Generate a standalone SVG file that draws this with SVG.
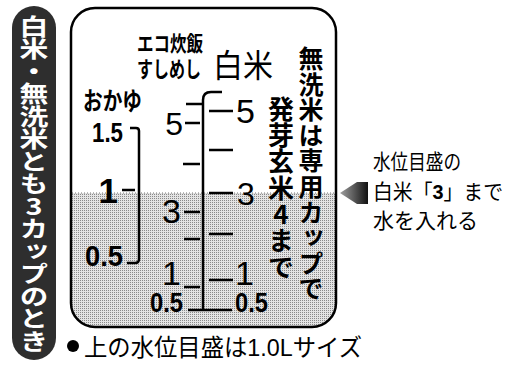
<svg xmlns="http://www.w3.org/2000/svg" width="516" height="365" viewBox="0 0 516 365">
<defs>
<style>
.jp{font-family:"Liberation Sans","Noto Sans CJK JP",sans-serif;}
.jv{font-family:"Noto Sans CJK JP","Noto Sans",sans-serif;}
.num{font-family:"Liberation Sans",Arial,sans-serif;}
.b{font-weight:bold;}
.ln{stroke:#000;stroke-width:2.5;fill:none;}
.vt{writing-mode:vertical-rl;text-orientation:upright;}
</style>
<pattern id="dots" width="2" height="2" patternUnits="userSpaceOnUse">
<rect width="2" height="2" fill="#e4e4e4"/>
<rect width="1" height="1" fill="#8a8a8a"/>
</pattern>
<clipPath id="cup"><rect x="71" y="8" width="265" height="319" rx="24"/></clipPath>
<linearGradient id="ag" x1="0" x2="1" y1="0" y2="0"><stop offset="0" stop-color="#a0a0a0"/><stop offset="1" stop-color="#111"/></linearGradient>
</defs>
<rect width="516" height="365" fill="#fff"/>

<g id="side-label">
<rect x="12" y="6" width="44" height="354" rx="22" fill="#2e2e2e"/>
<text class="jv b vt" x="34" y="15" font-size="22.5" fill="#fff" transform="matrix(1.28,0,0,1,-9.52,0)">白米・無洗米とも3カップのとき</text>
</g>

<g id="cup-body">
<rect x="71" y="8" width="265" height="319" rx="24" fill="#fff"/>
<rect x="71" y="193" width="265" height="134" fill="url(#dots)" clip-path="url(#cup)"/>
<line x1="72" y1="193" x2="335" y2="193" stroke="#777" stroke-width="1" stroke-dasharray="1,2"/>
<rect x="71" y="8" width="265" height="319" rx="24" fill="none" stroke="#000" stroke-width="2.5"/>
</g>

<g id="headers">
<text class="jp b" x="137" y="51" font-size="21" textLength="66" lengthAdjust="spacingAndGlyphs">エコ炊飯</text>
<text class="jp b" x="137" y="77" font-size="22" textLength="64" lengthAdjust="spacingAndGlyphs">すしめし</text>
<text class="jp" x="213" y="77" font-size="32" textLength="60" lengthAdjust="spacingAndGlyphs">白米</text>
</g>

<g id="okayu-scale">
<text class="jp b" x="83" y="110" font-size="25" textLength="59" lengthAdjust="spacingAndGlyphs">おかゆ</text>
<text class="num b" x="92" y="142" font-size="27" textLength="31" lengthAdjust="spacingAndGlyphs">1.5</text>
<text class="num b" x="118" y="203" font-size="35" text-anchor="end">1</text>
<text class="num b" x="85" y="266" font-size="30" textLength="38" lengthAdjust="spacingAndGlyphs">0.5</text>
</g>

<g id="rice-scale-labels">
<text class="num" x="183" y="135" font-size="32" text-anchor="end">5</text>
<text class="num" x="181" y="223" font-size="34" text-anchor="end">3</text>
<text class="num" x="181" y="285" font-size="34" text-anchor="end">1</text>
<text class="num b" x="150" y="312" font-size="27" textLength="33" lengthAdjust="spacingAndGlyphs">0.5</text>
<text class="num" x="236" y="123" font-size="34">5</text>
<text class="num" x="237" y="205" font-size="32">3</text>
<text class="num" x="235" y="285" font-size="34">1</text>
<text class="num b" x="235" y="312" font-size="27" textLength="33" lengthAdjust="spacingAndGlyphs">0.5</text>
</g>

<g id="connectors">
<path class="ln" d="M130,128 H136 Q139,128 139,131 V259 Q139,263 135,263 H127"/>
<path class="ln" d="M122,190 H135"/>
<path class="ln" d="M203,310 V100 Q203,92 211,92 H222"/>
<path class="ln" d="M188,310 H232"/>
<path class="ln" d="M186,104 H202 M185,123 H200 M183,164 H200 M184,212 H200 M184,239 H200 M184,287 H200"/>
<path class="ln" d="M209,111 H233 M209,150 H233 M209,193 H233 M209,234 H233 M209,280 H233"/>
</g>

<g id="columns">
<text class="jv b vt" x="281" y="96" font-size="26" letter-spacing="0.3">発芽玄米4まで</text>
<text class="jv b vt" x="311" y="46" font-size="25" letter-spacing="0.6">無洗米は専用カップで</text>
</g>

<g id="callout">
<polygon points="340,193 357,182 368,182 368,204 357,204" fill="url(#ag)"/>
<text class="jp" x="373" y="169" font-size="21" textLength="88" lengthAdjust="spacingAndGlyphs">水位目盛の</text>
<text class="jp" x="373" y="199" font-size="21" textLength="130" lengthAdjust="spacingAndGlyphs">白米「<tspan class="b">3</tspan>」まで</text>
<text class="jp" x="373" y="228" font-size="21" textLength="105" lengthAdjust="spacingAndGlyphs">水を入れる</text>
</g>

<g id="note">
<circle cx="73" cy="346" r="6" fill="#000"/>
<text class="jp" x="84" y="356" font-size="24" textLength="278" lengthAdjust="spacingAndGlyphs">上の水位目盛は1.0Lサイズ</text>
</g>
</svg>
